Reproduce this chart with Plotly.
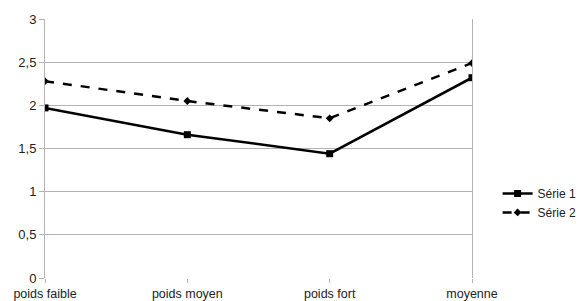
import plotly.graph_objects as go

categories = ["poids faible", "poids moyen", "poids fort", "moyenne"]
serie1 = [1.97, 1.66, 1.44, 2.32]
serie2 = [2.28, 2.05, 1.85, 2.49]
series_names = ["Série 1", "Série 2"]

x_idx = list(range(len(categories)))

fig = go.Figure()
fig.add_trace(go.Scatter(
    x=x_idx, y=serie1, name=series_names[0], mode="lines+markers",
    line=dict(color="black", width=2.5),
    marker=dict(symbol="square", size=7, color="black"),
))
fig.add_trace(go.Scatter(
    x=x_idx, y=serie2, name=series_names[1], mode="lines+markers",
    line=dict(color="black", width=2.5, dash="dash"),
    marker=dict(symbol="diamond", size=6, color="black"),
))

fig.update_layout(
    width=585, height=301,
    margin=dict(l=45, r=113, t=19, b=23, autoexpand=False),
    paper_bgcolor="white", plot_bgcolor="white",
    font=dict(family="Liberation Sans, Arial, sans-serif", size=12, color="#222"),
    separators=", ",
    showlegend=True,
    legend=dict(x=1.06, y=0.29, xanchor="left", yanchor="middle",
                font=dict(size=12), itemwidth=30, tracegroupgap=0,
                bgcolor="rgba(0,0,0,0)"),
    xaxis=dict(
        range=[0, 3], tickvals=x_idx, ticktext=categories,
        showgrid=False, zeroline=False, automargin=False,
        ticks="outside", ticklen=4, tickcolor="#b3b3b3",
        showline=False, tickfont=dict(size=12.5),
    ),
    yaxis=dict(
        range=[0, 3], dtick=0.5, tickformat=".1~f", automargin=False,
        showgrid=True, gridcolor="#b3b3b3", gridwidth=1,
        zeroline=False, showline=True, linecolor="#b3b3b3", linewidth=1,
        mirror=True, ticks="outside", ticklen=5, tickcolor="#b3b3b3",
        tickfont=dict(size=13),
    ),
)

fig.write_html("out.html", config={"displayModeBar": False},
               post_script="document.body.style.margin='0';document.body.style.overflow='hidden';")
